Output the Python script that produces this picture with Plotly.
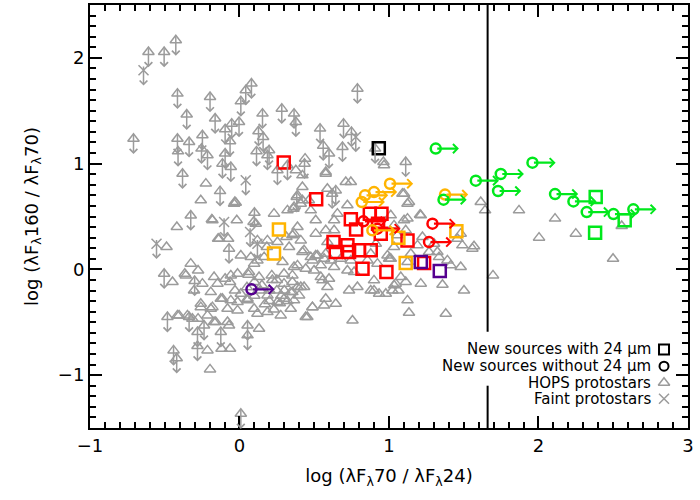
import plotly.graph_objects as go

# ---------------- data ----------------
# HOPS protostars (detections)
hops_x = [-0.259,-0.185,-0.025,-0.018,-0.419,-0.136,0.231,0.321,0.421,0.421,0.464,0.577,0.588,0.711,
          0.439,0.963,0.745,1.09,1.134,1.213,1.614,1.643,1.870,2.004,2.111,2.25,2.557,1.48,1.569,2.499,
          1.696,1.358,1.502,1.38,1.134,1.124,1.112,1.034,1.063,1.023,0.934,0.90,0.789,0.756,1.48,1.413,
          1.335,1.012,1.124,
          0.421,0.477,0.522,0.566,0.388,0.443,0.499,0.544,0.599,0.588,0.354,0.388,0.432,0.354,0.399,
          0.577,0.644,0.566,0.488,0.443,0.733,0.767,0.878,0.99,1.045,
          -0.031,0.094,-0.143,-0.076,-0.488,0.314,0.354,0.388,0.361,0.388,0.254,0.187,0.009,0.076,0.12,
          0.098,0.165,-0.326,-0.277,-0.448,-0.359,-0.17,-0.096,-0.058,-0.013,0.064,0.131,0.216,0.298,
          0.354,0.365,0.288,0.183,
          -0.404,-0.277,-0.214,-0.259,-0.192,-0.17,-0.07,-0.08,0.131,-0.214,-0.12,-0.063,-0.197,-0.114,
          -0.058,-0.013,0.009,0.098,0.12,0.187,0.276,0.343,0.254,0.298,0.365,-0.08,-0.013,0.054,0.187,
          0.343,-0.304,-0.192,-0.366,-0.248,-0.147,-0.063,-0.125,-0.259,-0.181,-0.415,-0.348,-0.315,
          -0.159,0.054,0.298,0.41,0.454,0.488,0.555,0.633,
          0.577,-0.036,-0.181,0.109,0.12,0.365,0.41,0.477,0.51,0.577,0.633,0.655,0.722,0.588,0.41,0.432,
          0.332,0.365,0.488,0.51,0.544,0.611,0.678,0.722,0.745,0.90,0.878,0.979,1.079,1.056,1.101,1.124,
          1.302,1.213,-0.225,
          0.967,1.101,1.208,1.124,1.012,1.034,1.112,1.224,1.191,1.324,1.458,1.491,1.558,0.421,0.51,
          0.577,0.633,0.912,0.923,1.001,1.034,1.146,1.268,1.391,0.856,0.377,
          0.15,0.2,0.25,0.1,0.2,0.25,0.3,0.17,0.05,0.1,-0.03,0.23,0.14,0.28,0.32,0.22,0.06,0.27]
hops_y = [0.653,0.473,0.631,0.464,0.40,0.29,0.527,0.558,0.889,0.653,0.653,0.920,0.763,0.826,
          1.047,1.015,0.826,0.716,0.637,0.511,0.637,0.558,0.558,0.30,0.48,0.338,0.41,0.338,0.218,0.101,
          -0.057,-0.145,-0.199,-0.419,-0.41,-0.293,-0.12,-0.151,-0.199,-0.199,-0.23,-0.199,-0.167,-0.483,0.022,0.038,
          0.116,0.101,0.069,
          0.164,0.116,0.132,0.101,0.038,0.006,-0.01,-0.073,-0.088,-0.167,-0.12,-0.167,-0.167,-0.215,-0.246,
          -0.277,-0.325,-0.341,-0.357,-0.451,-0.199,-0.025,0.148,0.132,-0.135,
          0.637,0.448,0.29,0.29,0.211,0.306,0.322,0.40,0.574,0.70,0.258,0.274,0.132,0.116,0.085,
          0.054,0.116,0.054,-0.01,-0.12,-0.057,-0.073,-0.088,-0.057,-0.041,-0.025,-0.073,-0.057,-0.041,
          -0.057,0.022,0.069,0.211,
          -0.435,-0.466,-0.435,-0.357,-0.372,-0.498,-0.53,-0.498,-0.561,-0.766,-0.75,-0.75,-0.946,-0.277,
          -0.293,-0.309,-0.23,-0.372,-0.419,-0.404,-0.435,-0.372,-0.309,-0.277,-0.293,-0.372,-0.388,-0.277,-0.246,
          -0.215,-0.199,-0.215,-0.041,-0.135,-0.135,-0.12,-0.277,-0.325,-0.357,-0.435,-0.435,-0.466,
          -0.498,-0.293,-0.135,-0.167,-0.451,-0.357,-0.104,0.022,
          0.905,0.621,0.464,0.432,0.274,0.59,0.621,0.558,0.464,0.369,0.464,0.527,0.606,0.258,0.274,0.18,
          0.211,0.338,0.085,0.132,0.038,0.085,0.101,-0.01,0.085,-0.104,-0.199,-0.23,-0.073,0.322,0.464,0.621,
          0.243,-0.135,0.811,
          0.984,0.716,0.517,0.48,0.511,0.416,0.369,0.306,0.227,0.164,0.29,0.227,0.196,0.779,0.338,
          0.148,0.369,0.243,0.054,0.101,0.211,0.148,0.164,0.085,0.085,0.937,
          -0.15,-0.2,-0.2,-0.25,-0.3,-0.1,-0.2,-0.33,-0.17,-0.12,-0.2,-0.38,-0.2,-0.25,-0.3,-0.1,-0.05,-0.32]

# HOPS protostars (upper limits in y)
hopslim_x = [-0.426,-0.504,-0.609,-0.415,-0.353,-0.197,-0.163,-0.709,-0.415,-0.337,-0.248,-0.411,-0.254,
             -0.214,-0.096,-0.052,-0.003,-0.063,-0.096,0.009,0.042,0.080,0.154,0.127,0.158,0.114,0.198,
             0.283,0.365,0.377,-0.381,-0.058,-0.13,0.435,0.539,0.560,0.599,0.696,0.689,0.789,0.749,
             0.907,1.112,-0.326,0.100,0.383,0.644,0.62,0.254,0.321,0.187,-0.114,-0.07,-0.504,-0.30,
             -0.482,-0.337,-0.237,-0.281,-0.125,0.054,0.054,-0.441,-0.42,-0.281,0.009]
hopslim_y = [2.166,2.056,2.056,1.662,1.464,1.630,1.426,1.236,1.236,1.204,1.268,1.116,1.142,
             1.079,1.325,1.378,1.394,1.211,1.095,1.589,1.694,1.757,1.473,1.306,1.252,1.116,1.126,
             1.520,1.473,1.394,0.905,0.968,0.74,1.0,1.331,1.17,1.095,1.378,1.157,1.709,1.30,
             1.142,1.015,0.51,0.535,0.684,0.747,0.715,0.937,0.984,1.079,1.0,0.196,-0.041,-0.11,
             -0.451,-0.451,-0.53,-0.593,-0.593,-0.53,-0.624,-0.766,-0.84,-0.725,-1.365]

# Faint protostars (upper limits in y)
faint_x = [-0.642, 0.042, -0.103, 0.071, 0.12, -0.555, 0.778]
faint_y = [1.883, 0.842, 0.448, 0.353, 0.243, 0.243, 1.252]

# New sources with 24 um (squares), by colour group
sq_red_x = [0.296,0.513,0.745,0.780,0.872,0.950,0.927,0.945,0.629,0.644,0.722,0.733,0.80,0.878,0.823,0.983,1.124,1.235]
sq_red_y = [1.01,0.662,0.473,0.378,0.527,0.527,0.432,0.338,0.258,0.164,0.227,0.164,0.18,0.18,0.006,-0.025,0.274,0.06]
sq_orange_x = [0.264,0.231,1.063,1.451,1.112]
sq_orange_y = [0.378,0.151,0.30,0.36,0.06]
sq_green_x = [2.383,2.379,2.577]
sq_green_y = [0.684,0.347,0.464]
sq_purple_x = [1.213,1.340]
sq_purple_y = [0.069,-0.016]
sq_black_x = [0.932]
sq_black_y = [1.145]

# New sources without 24 um (circles, lower limits in x)
ci_red_x = [0.923,1.291,1.268,0.829]
ci_red_y = [0.385,0.432,0.258,0.454]
ci_orange_x = [1.007,0.84,0.818,0.90,1.375,0.889]
ci_orange_y = [0.81,0.70,0.637,0.731,0.707,0.369]
ci_green_x = [1.313,1.581,1.748,1.960,1.730,2.111,2.234,2.323,2.502,2.635,1.365]
ci_green_y = [1.142,0.839,0.902,1.009,0.741,0.712,0.643,0.542,0.523,0.568,0.659]
ci_purple_x = [0.080]
ci_purple_y = [-0.189]

boundary_x = 1.66
legend_labels = ["New sources with 24 \u03bcm", "New sources without 24 \u03bcm",
                 "HOPS protostars", "Faint protostars"]

# ---------------- styles ----------------
GRAY = "#9b9b9b"
RED = "#ff0000"
ORANGE = "#ffb400"
GREEN = "#00e81c"
PURPLE = "#55008f"
BLACK = "#000000"
FONT = "DejaVu Sans"

DOWN_LEN = 0.145
DOWN_TOP = 0.05
RIGHT_LEN = 0.155

fig = go.Figure()
annotations = []

def down_arrows(xs, ys, color, width=1.5):
    for x, y in zip(xs, ys):
        annotations.append(dict(x=x, y=y - DOWN_LEN, ax=x, ay=y + DOWN_TOP,
                                xref="x", yref="y", axref="x", ayref="y",
                                text="", showarrow=True, arrowhead=4, arrowsize=1.0,
                                arrowwidth=width, arrowcolor=color))

def right_arrows(xs, ys, color, width=2.2):
    for x, y in zip(xs, ys):
        annotations.append(dict(x=x + RIGHT_LEN, y=y, ax=x, ay=y,
                                xref="x", yref="y", axref="x", ayref="y",
                                text="", showarrow=True, arrowhead=4, arrowsize=0.8,
                                arrowwidth=width, arrowcolor=color))

down_arrows(hopslim_x, hopslim_y, GRAY)
down_arrows(faint_x, faint_y, GRAY)

fig.add_trace(go.Scatter(x=hops_x + hopslim_x, y=hops_y + hopslim_y, mode="markers",
                         marker=dict(symbol="triangle-up-open", size=10, color=GRAY,
                                     line=dict(width=1.5, color=GRAY))))
fig.add_trace(go.Scatter(x=faint_x, y=faint_y, mode="markers",
                         marker=dict(symbol="x-thin-open", size=10, color=GRAY,
                                     line=dict(width=1.5, color=GRAY))))

for xs, ys, c in [(sq_red_x, sq_red_y, RED), (sq_orange_x, sq_orange_y, ORANGE),
                  (sq_green_x, sq_green_y, GREEN), (sq_purple_x, sq_purple_y, PURPLE),
                  (sq_black_x, sq_black_y, BLACK)]:
    fig.add_trace(go.Scatter(x=xs, y=ys, mode="markers",
                             marker=dict(symbol="square-open", size=12, color=c,
                                         line=dict(width=2.5, color=c))))

for xs, ys, c in [(ci_red_x, ci_red_y, RED), (ci_orange_x, ci_orange_y, ORANGE),
                  (ci_green_x, ci_green_y, GREEN), (ci_purple_x, ci_purple_y, PURPLE)]:
    right_arrows(xs, ys, c)
    fig.add_trace(go.Scatter(x=xs, y=ys, mode="markers",
                             marker=dict(symbol="circle-open", size=10, color=c,
                                         line=dict(width=2.5, color=c))))

# legend (text + keys, drawn inside the plot area, bottom right)
leg_y = [-0.757, -0.915, -1.072, -1.224]
leg_text_x = 2.765
leg_key_x = 2.84
for lab, yy in zip(legend_labels, leg_y):
    annotations.append(dict(x=leg_text_x, y=yy, xref="x", yref="y", text=lab,
                            showarrow=False, xanchor="right", yanchor="middle",
                            font=dict(family=FONT, size=15, color="black")))
leg_sym = ["square-open", "circle-open", "triangle-up-open", "x-thin-open"]
leg_col = [BLACK, BLACK, GRAY, GRAY]
leg_size = [10, 9, 10, 10]
leg_w = [2, 2, 1.5, 1.5]
for s, c, sz, w, yy in zip(leg_sym, leg_col, leg_size, leg_w, leg_y):
    fig.add_trace(go.Scatter(x=[leg_key_x], y=[yy], mode="markers",
                             marker=dict(symbol=s, size=sz, color=c, line=dict(width=w, color=c))))

# boundary line, broken around the legend
shapes = [
    dict(type="line", xref="x", yref="y", x0=boundary_x, x1=boundary_x, y0=-1.5, y1=-1.10,
         line=dict(color="black", width=2)),
    dict(type="line", xref="x", yref="y", x0=boundary_x, x1=boundary_x, y0=-0.59, y1=2.5,
         line=dict(color="black", width=2)),
]

axis_common = dict(showline=True, linecolor="black", linewidth=2, mirror="allticks",
                   ticks="inside", ticklen=12, tickwidth=1.5, tickcolor="black",
                   showgrid=False, zeroline=False, automargin=False,
                   tickfont=dict(family=FONT, size=18, color="black"),
                   minor=dict(ticks="inside", ticklen=6, tickwidth=1.5, tickcolor="black",
                              dtick=0.1, showgrid=False))

fig.update_layout(
    width=700, height=500,
    margin=dict(l=90, r=12, t=5, b=72, pad=0),
    plot_bgcolor="white", paper_bgcolor="white",
    showlegend=False,
    annotations=annotations,
    shapes=shapes,
    xaxis=dict(range=[-1, 3.0005], dtick=1, tick0=0,
               title=dict(text="log (\u03bbF<sub>\u03bb</sub>70 / \u03bbF<sub>\u03bb</sub>24)",
                          font=dict(family=FONT, size=18, color="black")),
               **axis_common),
    yaxis=dict(range=[-1.5, 2.5], dtick=1, tick0=0,
               title=dict(text="log (\u03bbF<sub>\u03bb</sub>160 / \u03bbF<sub>\u03bb</sub>70)",
                          font=dict(family=FONT, size=18, color="black")),
               **axis_common),
)

fig.write_html("out.html", config={"displayModeBar": False},
               post_script="document.body.style.margin='0px';")
